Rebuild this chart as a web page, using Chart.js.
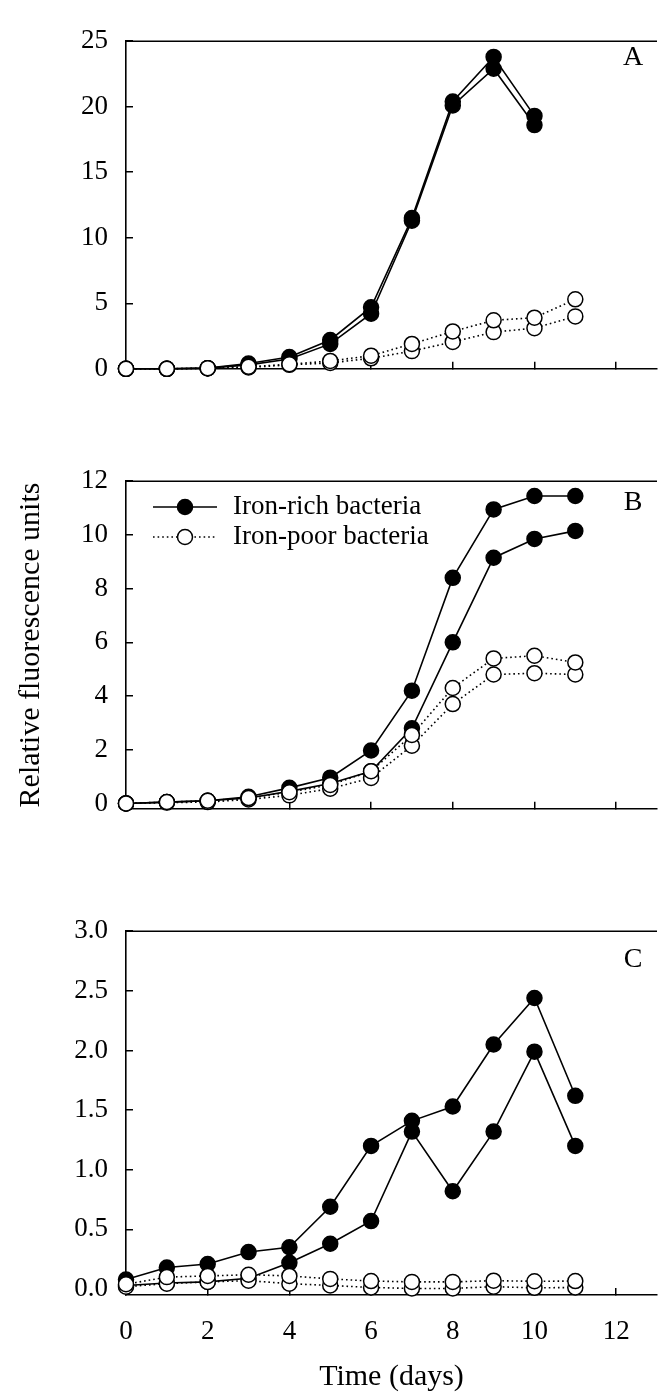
<!DOCTYPE html>
<html>
<head>
<meta charset="utf-8">
<script src="https://cdn.jsdelivr.net/npm/chart.js@4.4.1/dist/chart.umd.min.js"></script>
<style>
    body { margin: 0; background: #fff; }
    #wrap { position: relative; width: 666px; height: 1400px; }
    canvas { position: absolute; left: 0; }
</style>
</head>
<body>
<div id="wrap">
    <canvas id="chartA" width="666" height="410" style="top:0px"></canvas>
    <canvas id="chartB" width="666" height="410" style="top:440px"></canvas>
    <canvas id="chartC" width="666" height="510" style="top:890px"></canvas>
</div>
<script>
// time in days
var days = [0, 1, 2, 3, 4, 5, 6, 7, 8, 9, 10, 11];
var xTicks = [0, 2, 4, 6, 8, 10, 12];
var seriesNames = ['Iron-rich bacteria', 'Iron-poor bacteria'];

// panel A
var aRich1 = [0, 0, 0.05, 0.4, 0.9, 2.2, 4.7, 11.5, 20.4, 23.8, 19.3];
var aRich2 = [0, 0, 0.05, 0.3, 0.75, 1.9, 4.2, 11.3, 20.1, 22.9, 18.6];
var aPoor1 = [0, 0, 0.05, 0.15, 0.35, 0.6, 1.0, 1.9, 2.85, 3.7, 3.9, 5.3];
var aPoor2 = [0, 0, 0.03, 0.1, 0.3, 0.45, 0.8, 1.35, 2.05, 2.8, 3.1, 4.0];
var aTicks = [0, 5, 10, 15, 20, 25];

// panel B
var bRich1 = [0, 0.05, 0.1, 0.25, 0.58, 0.96, 1.97, 4.2, 8.4, 10.95, 11.45, 11.45];
var bRich2 = [0, 0.05, 0.1, 0.2, 0.45, 0.74, 1.2, 2.8, 6.0, 9.15, 9.85, 10.15];
var bPoor1 = [0, 0.05, 0.1, 0.2, 0.42, 0.69, 1.2, 2.55, 4.3, 5.4, 5.5, 5.25];
var bPoor2 = [0, 0.03, 0.05, 0.15, 0.3, 0.55, 0.95, 2.15, 3.7, 4.8, 4.85, 4.8];
var bTicks = [0, 2, 4, 6, 8, 10, 12];

// panel C
var cRich1 = [0.08, 0.18, 0.21, 0.31, 0.35, 0.69, 1.2, 1.41, 1.53, 2.05, 2.44, 1.62];
var cRich2 = [0.03, 0.05, 0.06, 0.09, 0.22, 0.38, 0.57, 1.32, 0.82, 1.32, 1.99, 1.2];
var cPoor1 = [0.04, 0.1, 0.11, 0.12, 0.11, 0.085, 0.067, 0.06, 0.06, 0.07, 0.065, 0.067];
var cPoor2 = [0.02, 0.045, 0.06, 0.07, 0.045, 0.03, 0.013, 0.005, 0.005, 0.02, 0.01, 0.013];
var cTicks = [0, 0.5, 1.0, 1.5, 2.0, 2.5, 3.0];

var FONT = 'Liberation Serif';

function points(values) {
    return values.map(function (v, i) {
        return { x: days[i], y: v };
    });
}

function richSet(values) {
    return {
        data: points(values),
        borderColor: '#000',
        borderWidth: 1.6,
        pointRadius: 7.5,
        pointBorderWidth: 1.5,
        pointBackgroundColor: '#000',
        pointBorderColor: '#000',
        tension: 0,
        clip: false
    };
}

function poorSet(values) {
    return {
        data: points(values),
        borderColor: '#000',
        borderWidth: 1.6,
        borderDash: [1.6, 3],
        pointRadius: 7.5,
        pointBorderWidth: 1.5,
        pointBackgroundColor: '#fff',
        pointBorderColor: '#000',
        tension: 0,
        clip: false
    };
}

// top frame line, panel letter and the legend in panel B
var decor = {
    id: 'decor',
    afterDraw: function (chart, args, opts) {
        var ctx = chart.ctx;
        var area = chart.chartArea;
        ctx.save();
        ctx.strokeStyle = '#000';
        ctx.lineWidth = 1.5;
        ctx.beginPath();
        ctx.moveTo(area.left, area.top);
        ctx.lineTo(area.right, area.top);
        ctx.stroke();

        ctx.fillStyle = '#000';
        ctx.font = '28px "' + FONT + '"';
        ctx.textAlign = 'center';
        ctx.textBaseline = 'middle';
        ctx.fillText(opts.letter, 633, opts.letterY);

        if (opts.legend) {
            ctx.font = '27px "' + FONT + '"';
            ctx.textAlign = 'left';
            for (var i = 0; i < 2; i++) {
                var y = 67 + i * 30;
                ctx.setLineDash(i == 0 ? [] : [1.6, 3]);
                ctx.beginPath();
                ctx.moveTo(153, y);
                ctx.lineTo(217, y);
                ctx.stroke();
                ctx.setLineDash([]);
                ctx.beginPath();
                ctx.arc(185, y, 7.5, 0, Math.PI * 2);
                ctx.fillStyle = i == 0 ? '#000' : '#fff';
                ctx.fill();
                ctx.stroke();
                ctx.fillStyle = '#000';
                ctx.fillText(seriesNames[i], 233, y);
            }
        }
        ctx.restore();
    }
};

function BuildPanel(id, sets, yMin, yMax, yTicks, decorOpts, extra) {
    var yTitle = extra.yTitle || '';
    new Chart(document.getElementById(id), {
        type: 'line',
        data: { datasets: sets },
        plugins: [decor],
        options: {
            responsive: false,
            animation: false,
            layout: { padding: { top: extra.top, right: 0, left: 0, bottom: 0 } },
            plugins: {
                legend: { display: false },
                tooltip: { enabled: false },
                decor: decorOpts
            },
            scales: {
                x: {
                    type: 'linear',
                    min: 0,
                    max: 13,
                    afterBuildTicks: function (s) {
                        s.ticks = xTicks.map(function (v) { return { value: v }; });
                    },
                    afterFit: function (s) { s.height = extra.xHeight; },
                    grid: { drawOnChartArea: false, drawTicks: true, tickLength: -7, color: '#000', lineWidth: 1.5 },
                    border: { display: true, color: '#000', width: 1.6 },
                    ticks: {
                        display: extra.xLabels,
                        padding: 28,
                        color: '#000',
                        font: { family: FONT, size: 27 }
                    },
                    title: {
                        display: extra.xLabels,
                        text: 'Time (days)',
                        color: '#000',
                        font: { family: FONT, size: 30 },
                        padding: { top: 0, bottom: 5 }
                    }
                },
                y: {
                    min: yMin,
                    max: yMax,
                    afterBuildTicks: function (s) {
                        s.ticks = yTicks.map(function (v) { return { value: v }; });
                    },
                    afterFit: function (s) { s.width = 126; },
                    grid: { drawOnChartArea: false, drawTicks: true, tickLength: -7, color: '#000', lineWidth: 1.5 },
                    border: { display: true, color: '#000', width: 1.6 },
                    ticks: {
                        padding: 25,
                        color: '#000',
                        font: { family: FONT, size: 27 },
                        callback: function (v) {
                            return extra.decimals ? v.toFixed(1) : String(v);
                        }
                    },
                    title: {
                        display: yTitle != '',
                        text: yTitle,
                        color: '#000',
                        font: { family: FONT, size: 30 },
                        padding: { top: 13, bottom: 0 }
                    }
                }
            }
        }
    });
}

BuildPanel('chartA',
    [poorSet(aPoor1), poorSet(aPoor2), richSet(aRich1), richSet(aRich2)],
    0, 25, aTicks,
    { letter: 'A', letterY: 58 },
    { top: 23, xHeight: 10, xLabels: false });

BuildPanel('chartB',
    [poorSet(bPoor1), poorSet(bPoor2), richSet(bRich1), richSet(bRich2)],
    -0.2, 12, bTicks,
    { letter: 'B', letterY: 63, legend: true },
    { top: 30, xHeight: 11, xLabels: false, yTitle: 'Relative fluorescence units' });

BuildPanel('chartC',
    [poorSet(cPoor1), poorSet(cPoor2), richSet(cRich1), richSet(cRich2)],
    -0.05, 3.0, cTicks,
    { letter: 'C', letterY: 70 },
    { top: 27, xHeight: 105, xLabels: true, decimals: true });
</script>
</body>
</html>
